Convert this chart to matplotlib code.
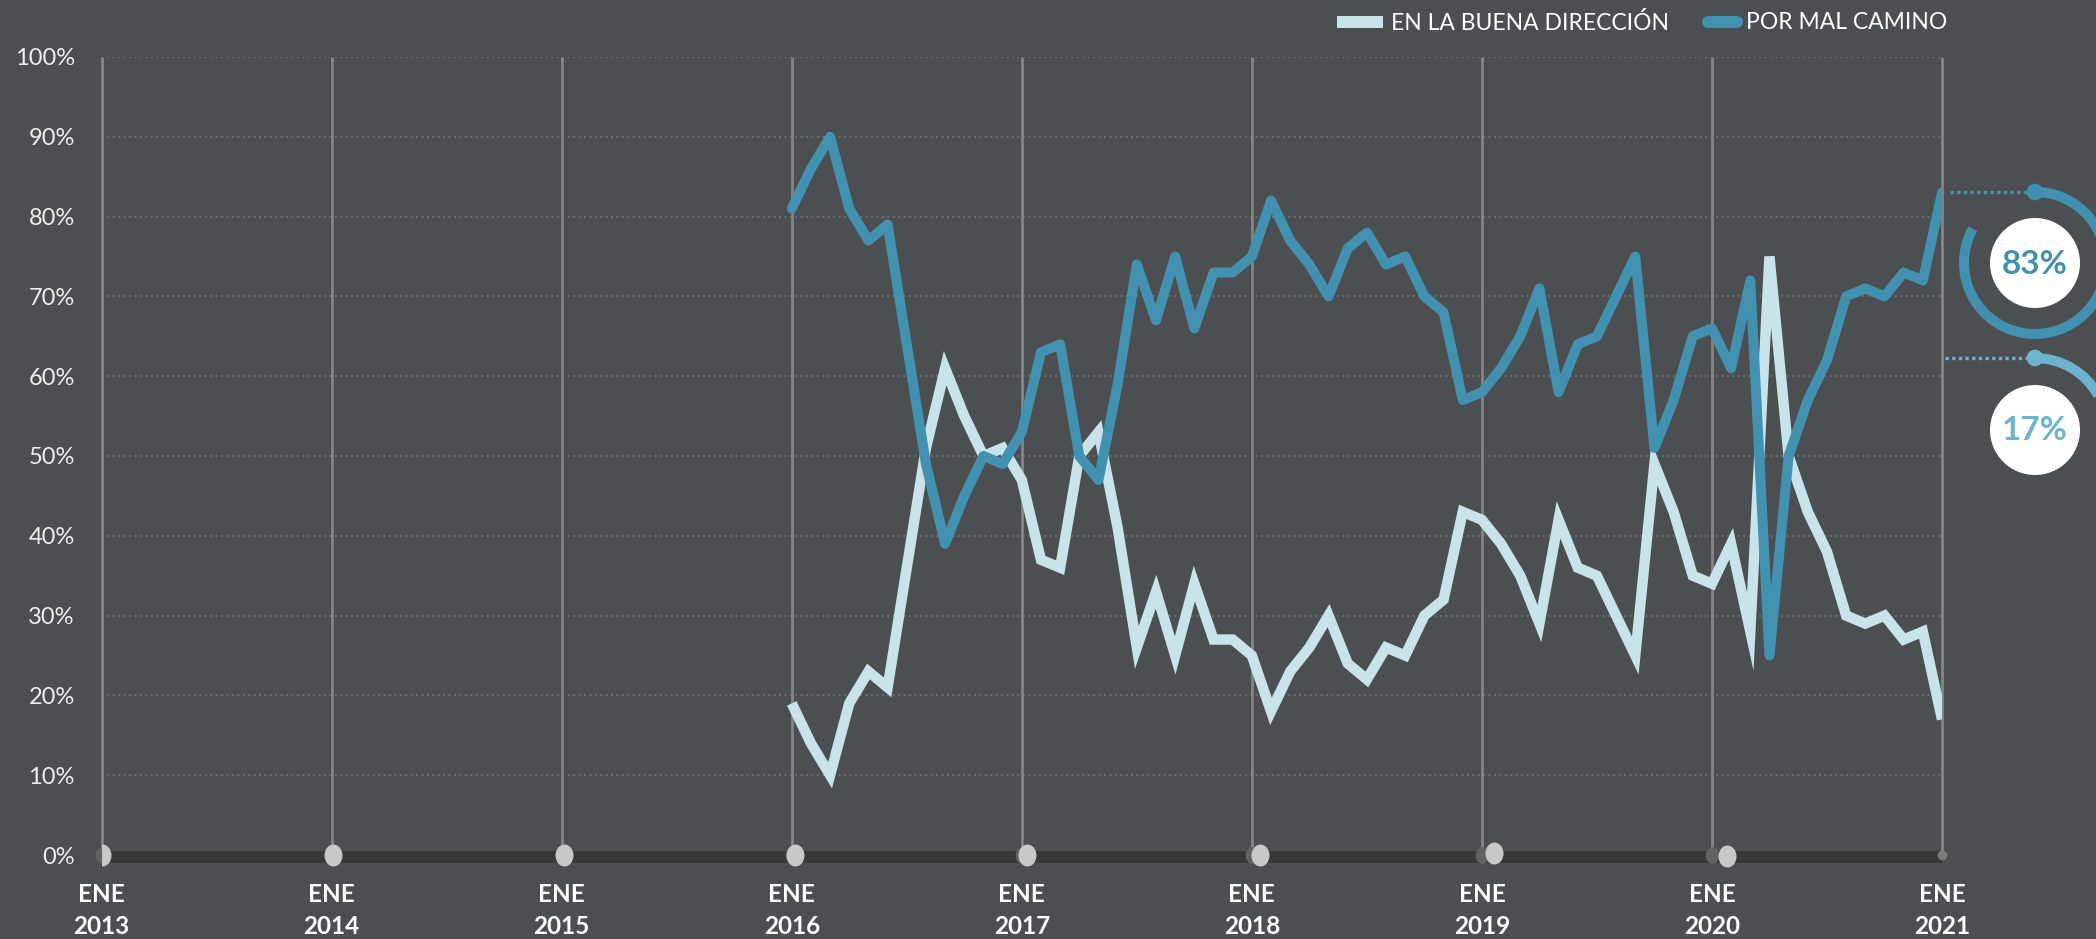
import numpy as np
import pandas as pd
import matplotlib
matplotlib.use("Agg")
import matplotlib.pyplot as plt
from matplotlib.path import Path
from matplotlib.markers import MarkerStyle
from matplotlib.patches import Arc, Circle, Rectangle
from matplotlib.lines import Line2D

# ---------------- data ----------------
por_mal_camino = [81, 86, 90, 81, 77, 79, 64, 49, 39, 45, 50, 49,
                  53, 63, 64, 50, 47, 59, 74, 67, 75, 66, 73, 73,
                  75, 82, 77, 74, 70, 76, 78, 74, 75, 70, 68, 57,
                  58, 61, 65, 71, 58, 64, 65, 70, 75, 51, 57, 65,
                  66, 61, 72, 25, 50, 57, 62, 70, 71, 70, 73, 72,
                  83]
buena_direccion = [19, 14, 10, 19, 23, 21, 36, 51, 61, 55, 50, 51,
                   47, 37, 36, 50, 53, 41, 26, 33, 25, 34, 27, 27,
                   25, 18, 23, 26, 30, 24, 22, 26, 25, 30, 32, 43,
                   42, 39, 35, 29, 42, 36, 35, 30, 25, 49, 43, 35,
                   34, 39, 28, 75, 50, 43, 38, 30, 29, 30, 27, 28,
                   17]
start_month = "2016-01-01"
years = [2013, 2014, 2015, 2016, 2017, 2018, 2019, 2020, 2021]
month_label = "ENE"
y_ticks = [0, 10, 20, 30, 40, 50, 60, 70, 80, 90, 100]
legend_labels = ["EN LA BUENA DIRECCIÓN", "POR MAL CAMINO"]
# slight horizontal drift of the baseline bullets (in years) and vertical (in %)
bullet_dx = [0.0, 0.004, 0.008, 0.012, 0.022, 0.035, 0.052, 0.067, 0.083]
bullet_dy = [0, 0, 0, 0, 0, 0, 0.25, -0.15, 0]

# ---------------- style ----------------
W, H, DPI = 2096, 939, 100
BG = "#4b4f51"
BLUE = "#4391b0"
LIGHT = "#c8e3ea"
LBLUE = "#6cb4cd"
FONT = ["Lato", "DejaVu Sans"]
plt.rcParams["font.family"] = FONT

fig = plt.figure(figsize=(W / DPI, H / DPI), dpi=DPI, facecolor=BG)
ax_l, ax_r, ax_t, ax_b = 101.6, 1942.0, 57.0, 855.0
ax = fig.add_axes([ax_l / W, 1 - ax_b / H, (ax_r - ax_l) / W, (ax_b - ax_t) / H])
ax.set_facecolor(BG)
for s in ax.spines.values():
    s.set_visible(False)

dates = pd.date_range(start_month, periods=len(por_mal_camino), freq="MS")
xpos = dates.year + (dates.month - 1) / 12.0

ax.set_xlim(years[0], years[-1])
ax.set_ylim(0, 100)

# grid
for v in y_ticks[1:]:
    ax.plot([years[0], years[-1]], [v, v], color="#727272", lw=1.3,
            ls=(0, (1, 2)), zorder=0.5)
for yr in years:
    ax.plot([yr, yr], [0, 100], color="#858585", lw=2, zorder=1,
            clip_on=False, solid_capstyle="butt")

# baseline band
ax.plot([years[0], years[-1]], [-0.3, -0.3], color="#383838", lw=8.6,
        solid_capstyle="butt", clip_on=False, zorder=2)

# ellipse bullets
circ = Path.unit_circle()
ell = Path(circ.vertices * np.array([0.82, 1.0]), circ.codes)
mk = MarkerStyle(ell)
ax.plot(years[:-1], [0] * (len(years) - 1), ls="none", marker=mk, ms=12,
        color="#626262", mec="none", clip_on=False, zorder=2.5)
ax.plot([years[-1]], [0], ls="none", marker="o", ms=7,
        color="#7a7a7a", mec="none", clip_on=False, zorder=2.5)
bx = [y + d for y, d in zip(years, bullet_dx)]
by = [0 + d for d in bullet_dy]
bullets, = ax.plot(bx, by, ls="none", marker=mk, ms=15.8, color="#c8c8c8",
                   mec="none", zorder=3)
clip_rect = Rectangle((0, -0.2), 1, 1.4, transform=ax.transAxes,
                      facecolor="none", edgecolor="none")
ax.add_patch(clip_rect)
bullets.set_clip_path(clip_rect)

# series
ax.plot(xpos, buena_direccion, color=LIGHT, lw=7.5,
        solid_joinstyle="miter", solid_capstyle="butt", zorder=4)
ax.plot(xpos, por_mal_camino, color=BLUE, lw=7.2,
        solid_joinstyle="round", solid_capstyle="round", zorder=5)

# ticks
ax.set_xticks([])
ax.set_yticks(y_ticks, labels=[f"{v}%" for v in y_ticks])
ax.tick_params(axis="y", length=0, pad=19.4, labelsize=17, labelcolor="#eeeeee")
for lab in ax.get_yticklabels():
    lab.set_family(FONT)

axh = ax_b - ax_t
for yr in years:
    ax.text(yr, -46.5 / axh, month_label, transform=ax.get_xaxis_transform(),
            ha="center", va="baseline", fontsize=17.5, fontweight="bold",
            color="#ffffff", clip_on=False)
    ax.text(yr, -79.5 / axh, str(yr), transform=ax.get_xaxis_transform(),
            ha="center", va="baseline", fontsize=17.5, fontweight="bold",
            color="#ffffff", clip_on=False)

# ---------------- overlay (pixel coords, y up) ----------------
ov = fig.add_axes([0, 0, 1, 1], zorder=10)
ov.set_xlim(0, W)
ov.set_ylim(0, H)
ov.axis("off")
ov.patch.set_alpha(0)

# legend
ov.add_patch(Rectangle((1337, H - 28), 46, 12, color=LIGHT, lw=0))
ov.text(1391, H - 22.5, legend_labels[0], ha="left", va="center",
        fontsize=16.5, color="#ffffff")
ov.add_line(Line2D([1708, 1737], [H - 22, H - 22], color=BLUE, lw=8.6,
                   solid_capstyle="round"))
ov.text(1746, H - 22.5, legend_labels[1], ha="left", va="center",
        fontsize=16.5, color="#ffffff")

# right-side gauges
def gauge(cx, cy_down, r, frac, color, text, dot_x0):
    cy = H - cy_down
    ov.add_patch(Arc((cx, cy), 2 * r, 2 * r, theta1=90 - 360 * frac, theta2=90,
                     color=color, lw=7.2))
    ov.add_line(Line2D([dot_x0, cx - 8], [cy + r, cy + r], color=color, lw=2.4,
                       ls=(0, (1, 1))))
    ov.add_patch(Circle((cx, cy + r), 8.3, color=color, lw=0))
    ov.add_patch(Circle((cx, cy), 45, color="#ffffff", lw=0))
    ov.text(cx, cy - 1, text, ha="center", va="center", fontsize=24,
            fontweight="bold", color=color)

last_mal = por_mal_camino[-1]
last_buena = buena_direccion[-1]
gauge(2035, 263, 71, last_mal / 100, BLUE, f"{last_mal}%", 1950)
gauge(2035, 430, 72, last_buena / 100, LBLUE, f"{last_buena}%", 1945)

fig.savefig("out.png", dpi=DPI, facecolor=BG)
